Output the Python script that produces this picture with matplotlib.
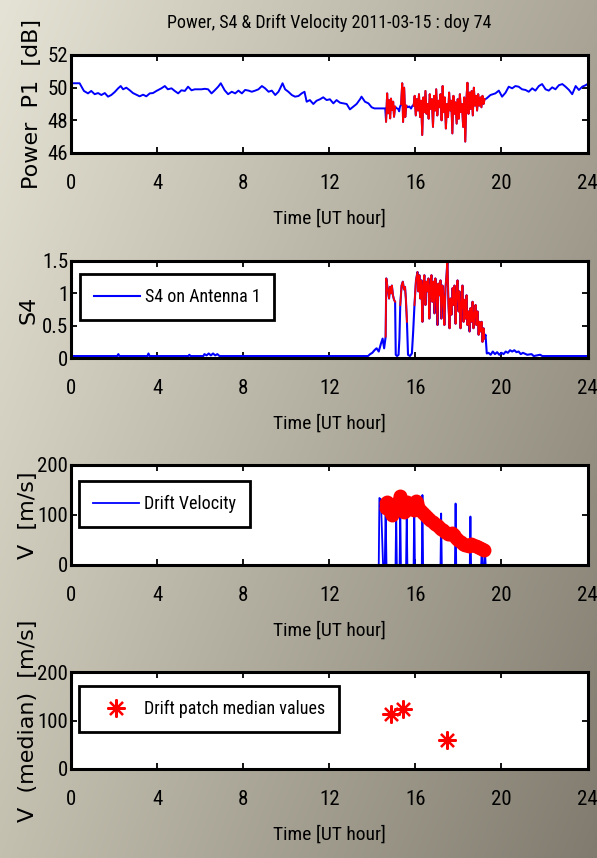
import numpy as np
import matplotlib
matplotlib.use('Agg')
import matplotlib.pyplot as plt
from matplotlib import font_manager

# ---- data ----
power_t = [0.00, 0.40, 0.60, 0.79, 0.94, 1.10, 1.26, 1.41, 1.57, 1.72, 1.87, 2.03, 2.19, 2.31, 2.42,
           2.57, 2.73, 2.88, 3.04, 3.19, 3.35, 3.50, 3.66, 3.81, 3.97, 4.20, 4.36, 4.50, 4.67, 4.82,
           4.98, 5.13, 5.29, 5.44, 5.60, 5.75, 5.90, 6.06, 6.22, 6.37, 6.53, 6.68, 6.84, 6.96, 7.14,
           7.30, 7.47, 7.63, 7.78, 7.94, 8.09, 8.25, 8.40, 8.56, 8.71, 8.87, 9.02, 9.18, 9.33, 9.49,
           9.64, 9.72, 9.83, 9.95, 10.10, 10.26, 10.41, 10.57, 10.72, 10.85, 10.95, 11.10, 11.26, 11.41,
           11.57, 11.72, 11.88, 12.03, 12.19, 12.34, 12.50, 12.65, 12.81, 12.96, 13.12, 13.27, 13.43,
           13.50, 13.66, 13.82, 13.97, 14.10, 14.40, 14.60,
           14.64, 14.69, 14.73, 14.78, 14.83, 14.87, 14.92, 14.97, 15.01, 15.06,
           15.12, 15.20, 15.25, 15.28,
           15.34, 15.39, 15.43, 15.48, 15.53, 15.58,
           15.65, 15.72, 15.80, 15.87,
           15.92, 15.97, 16.02, 16.07, 16.12, 16.17, 16.22, 16.27, 16.32, 16.37, 16.42, 16.47, 16.52,
           16.57, 16.62, 16.67, 16.72, 16.77, 16.82, 16.87, 16.92, 16.97, 17.02, 17.07, 17.12, 17.17,
           17.22, 17.27, 17.32, 17.37, 17.42, 17.47, 17.52, 17.57, 17.62, 17.67, 17.72, 17.77, 17.82,
           17.87, 17.92, 17.97, 18.02, 18.07, 18.12, 18.17, 18.22, 18.27, 18.32, 18.37, 18.42, 18.47,
           18.52, 18.57, 18.62, 18.67, 18.72, 18.77, 18.82, 18.87, 18.92, 18.97, 19.02, 19.07, 19.12,
           19.17, 19.22,
           19.30, 19.49, 19.72, 19.88, 20.03, 20.19, 20.34, 20.50, 20.65, 20.80, 20.96, 21.12, 21.27,
           21.43, 21.58, 21.74, 21.89, 22.05, 22.20, 22.36, 22.51, 22.67, 22.83, 22.98, 23.14, 23.29,
           23.45, 23.60, 23.76, 23.91, 24.00]
power_db = [50.27, 50.27, 49.80, 49.65, 49.80, 49.60, 49.67, 49.55, 49.67, 49.45, 49.55, 49.73, 49.96, 50.10, 49.90,
            50.00, 49.84, 49.67, 49.57, 49.47, 49.57, 49.47, 49.65, 49.67, 49.80, 49.96, 50.10, 49.90, 49.96, 49.80,
            49.65, 49.84, 49.80, 50.06, 49.84, 49.90, 49.90, 49.90, 49.93, 49.90, 49.65, 49.84, 50.06, 50.27, 49.84,
            49.60, 49.75, 49.65, 49.82, 49.65, 49.86, 49.82, 49.75, 49.82, 49.90, 50.10, 49.96, 49.75, 49.82, 49.55,
            49.75, 49.96, 50.27, 49.90, 49.75, 49.55, 49.45, 49.49, 49.65, 49.75, 49.14, 49.24, 49.00, 49.20,
            49.29, 49.41, 49.24, 49.29, 49.04, 49.24, 49.08, 49.04, 49.00, 48.67, 48.84, 49.00, 49.29,
            49.45, 49.14, 49.04, 48.80, 48.73, 48.73, 48.73,
            47.92, 49.65, 48.43, 49.24, 48.12, 49.33, 48.63, 49.14, 48.22, 48.84,
            48.75, 48.70, 48.55, 48.80,
            49.00, 50.27, 47.90, 50.00, 48.20, 48.90,
            48.80, 48.85, 48.72, 48.90,
            48.90, 49.50, 48.30, 49.30, 48.60, 49.60, 48.20, 49.20, 47.10, 49.40, 48.50, 49.80, 48.40,
            49.00, 48.10, 49.60, 48.70, 49.30, 47.60, 49.50, 48.60, 49.90, 48.30, 49.20, 48.80, 49.60,
            48.00, 50.10, 48.50, 49.40, 47.50, 49.00, 48.20, 49.70, 48.60, 49.20, 47.20, 49.50, 48.40,
            49.10, 47.80, 49.30, 48.10, 49.60, 48.50, 49.00, 47.60, 49.40, 46.70, 49.20, 50.30, 48.40,
            49.70, 48.70, 49.80, 48.30, 50.00, 48.90, 49.50, 48.60, 49.60, 48.90, 49.40, 48.80, 49.50,
            49.00, 49.30,
            49.33, 49.55, 49.65, 49.82, 49.45, 49.69, 50.06, 49.96, 50.10, 50.06, 49.90, 49.86, 49.75,
            49.96, 49.82, 50.10, 50.22, 49.90, 49.82, 50.02, 49.90, 50.15, 50.22, 50.06, 49.86, 49.60,
            50.10, 49.86, 50.06, 50.15, 50.22]

s4_t = [0.00, 2.15, 2.20, 2.25, 3.55, 3.60, 3.65, 5.45, 5.50, 5.55, 6.15, 6.20, 6.30, 6.40, 6.50,
        6.60, 6.70, 6.80, 6.90, 13.80, 13.90, 14.00, 14.10, 14.20, 14.30, 14.40, 14.48, 14.55,
        14.62, 14.65, 14.71, 14.78, 14.82, 14.87, 14.91, 14.96, 15.01, 15.06,
        15.09, 15.15, 15.22, 15.26,
        15.30, 15.36, 15.42, 15.47, 15.52, 15.56, 15.61,
        15.66, 15.75, 15.84, 15.90,
        15.96, 16.03, 16.10, 16.14, 16.19, 16.23, 16.28, 16.33, 16.37, 16.42, 16.47, 16.51, 16.56,
        16.61, 16.65, 16.70, 16.75, 16.79, 16.84, 16.89, 16.93, 16.98, 17.03, 17.07, 17.12, 17.17,
        17.21, 17.26, 17.31, 17.35, 17.40, 17.45, 17.49, 17.54, 17.59, 17.63, 17.68, 17.73, 17.77,
        17.82, 17.87, 17.91, 17.96, 18.01, 18.05, 18.10, 18.14, 18.19, 18.24, 18.28, 18.33, 18.38,
        18.42, 18.47, 18.52, 18.56, 18.61, 18.66, 18.70, 18.75, 18.80, 18.84, 18.89, 18.94, 18.98,
        19.03, 19.08, 19.12, 19.17, 19.21,
        19.26, 19.32, 19.40, 19.50, 19.60, 19.70, 19.80, 19.90, 20.00, 20.10, 20.20, 20.30, 20.40,
        20.50, 20.60, 20.70, 20.80, 20.90, 21.00, 21.20, 21.40, 21.50, 21.80, 21.90, 24.00]
s4_v = [0.03, 0.03, 0.06, 0.03, 0.03, 0.07, 0.03, 0.03, 0.05, 0.03, 0.03, 0.06, 0.04, 0.07, 0.04,
        0.07, 0.04, 0.06, 0.03, 0.03, 0.06, 0.08, 0.12, 0.15, 0.10, 0.22, 0.30, 0.15,
        0.33, 1.23, 1.08, 0.92, 1.10, 1.00, 1.12, 0.97, 0.90, 0.87,
        0.05, 0.03, 0.05, 0.30,
        0.82, 1.12, 1.18, 1.06, 1.10, 0.92, 0.56,
        0.05, 0.03, 0.07, 0.41,
        0.82, 1.20, 1.33, 1.03, 1.28, 0.92, 1.20, 0.56, 1.12, 1.28, 0.82, 1.18, 1.03,
        1.23, 0.61, 1.12, 1.28, 0.87, 1.18, 0.69, 1.23, 1.08, 0.51, 1.15, 0.97, 1.20,
        0.61, 1.12, 0.92, 0.51, 1.08, 1.28, 1.51, 0.82, 0.46, 0.92, 0.67, 1.08, 0.82,
        1.12, 0.53, 0.97, 1.20, 0.72, 1.03, 0.46, 0.82, 1.12, 0.56, 0.90, 0.61, 0.97,
        0.51, 0.72, 0.41, 0.77, 0.56, 0.87, 0.46, 0.67, 0.82, 0.51, 0.72, 0.36, 0.56,
        0.41, 0.56, 0.25, 0.46, 0.30,
        0.36, 0.07, 0.08, 0.05, 0.10, 0.06, 0.09, 0.05, 0.08, 0.06, 0.10, 0.08, 0.12,
        0.10, 0.12, 0.09, 0.10, 0.06, 0.08, 0.05, 0.06, 0.03, 0.05, 0.03, 0.03]

# scintillation patches (drawn in red)
patches = [(14.62, 15.07), (15.29, 15.61), (15.91, 19.23)]

drift_t = [0.00, 14.30, 14.33, 14.40, 14.50, np.nan, 14.58, 14.62, 14.66, np.nan,
           15.08, 15.11, 15.14, np.nan, 15.27, 15.30, 15.33, np.nan, 15.57, 15.60, 15.63, np.nan,
           15.92, 15.95, 15.98, np.nan, 16.30, 16.33, 16.36, np.nan, 17.17, 17.20, 17.23, np.nan,
           17.84, 17.87, 17.90, np.nan, 18.53, 18.56, 18.59, np.nan,
           19.06, 19.09, 19.12, 19.20, 19.23, 19.27, 24.00]
drift_v = [0, 0, 134, 131, 0, np.nan, 0, 110, 0, np.nan,
           0, 108, 0, np.nan, 0, 115, 0, np.nan, 0, 105, 0, np.nan,
           0, 127, 0, np.nan, 0, 140, 0, np.nan, 0, 103, 0, np.nan,
           0, 123, 0, np.nan, 0, 97, 0, np.nan,
           0, 37, 0, 0, 33, 0, 0]

# drift estimates inside each patch (nan separates patches)
patch_t = [14.62, 14.66, 14.70, 14.75, 14.80, 14.85, 14.90, 14.95, 15.00, 15.04, 15.08, np.nan,
           15.18, 15.22, 15.27, 15.32, 15.37, 15.42, 15.47, 15.52, 15.57, 15.62, 15.67, 15.72, np.nan,
           15.93, 15.97, 16.02, 16.07, 16.12, 16.20, 16.30, 16.40, 16.50, 16.60, 16.70, 16.80,
           16.90, 17.00, 17.10, 17.20, 17.30, 17.40, 17.50, 17.60, 17.70, 17.80, 17.90, 18.00,
           18.10, 18.20, 18.30, 18.40, 18.50, 18.60, 18.70, 18.80, 18.90, 19.00, 19.10, 19.20]
patch_v = [115, 124, 127, 122, 112, 104, 100, 108, 117, 118, 110, np.nan,
           118, 130, 138, 130, 118, 108, 106, 112, 122, 127, 122, 112, np.nan,
           110, 122, 128, 124, 117, 110, 106, 102, 98, 94, 90, 86,
           82, 80, 76, 73, 70, 66, 62, 62, 64, 60, 54, 50,
           46, 43, 40, 40, 38, 42, 40, 38, 36, 35, 32, 30]

median_t = [14.85, 15.42, 17.46]
median_v = [113, 123, 59]

xticks = [0, 4, 8, 12, 16, 20, 24]

# ---- fonts ----
names = {f.name for f in font_manager.fontManager.ttflist}
narrow = next((n for n in ['Roboto Condensed', 'Archivo Narrow', 'Liberation Sans Narrow']
               if n in names), 'Liberation Sans')
plt.rcParams['font.family'] = [narrow, 'DejaVu Sans']

W, H = 597, 858
fig = plt.figure(figsize=(W / 100, H / 100), dpi=100)

# background gradient
bg = fig.add_axes([0, 0, 1, 1], zorder=-10)
tl = np.array([229, 227, 213]) / 255
tr = np.array([170, 165, 150]) / 255
bl = np.array([196, 192, 176]) / 255
br = np.array([128, 123, 110]) / 255
u = np.linspace(0, 1, 200)[None, :, None]
w = np.linspace(0, 1, 200)[:, None, None]
img = (1 - w) * ((1 - u) * tl + u * tr) + w * ((1 - u) * bl + u * br)
bg.imshow(img, aspect='auto', extent=[0, 1, 0, 1])
bg.axis('off')


def in_patch(t):
    t = np.asarray(t, dtype=float)
    m = np.zeros(t.shape, dtype=bool)
    for a, b in patches:
        m |= (t >= a) & (t <= b)
    return m


def make_ax(top, bottom):
    ax = fig.add_axes([71 / W, 1 - bottom / H, (587.5 - 71) / W, (bottom - top) / H])
    ax.set_facecolor('white')
    for s in ax.spines.values():
        s.set_linewidth(2.2)
    ax.tick_params(direction='in', top=True, right=True, length=4.5, width=1.3,
                   labelsize=15, colors='black')
    ax.tick_params(axis='x', pad=15)
    ax.tick_params(axis='y', pad=2)
    ax.set_xlim(0, 24)
    ax.set_xticks(xticks)
    ax.set_xlabel('Time [UT hour]', fontsize=14, labelpad=12)
    return ax


def style_legend(leg):
    fr = leg.get_frame()
    fr.set_edgecolor('black')
    fr.set_linewidth(2)
    fr.set_alpha(1)


ylab = dict(family='DejaVu Sans', fontsize=16, va='center')
legkw = dict(loc='upper left', borderaxespad=0, fontsize=13, fancybox=False,
             handlelength=2.55, handletextpad=0.25, borderpad=0.78, numpoints=1)

# panel 1: power
ax1 = make_ax(55, 153)
pt = np.array(power_t)
pv = np.array(power_db)
ax1.plot(pt, pv, color='blue', lw=1.4)
ax1.plot(pt, np.where(in_patch(pt), pv, np.nan), color='red', lw=1.4)
ax1.set_ylim(46, 52)
ax1.set_yticks([46, 48, 50, 52])
ax1.set_ylabel('Power  P1  [dB]', **ylab)
ax1.yaxis.set_label_coords(-0.075, 0.5)
fig.text((71 + 587.5) / 2 / W, 1 - 23 / H, 'Power, S4 & Drift Velocity 2011-03-15 : doy 74',
         ha='center', va='center', fontsize=13)

# panel 2: S4
ax2 = make_ax(261, 358)
st = np.array(s4_t)
sv = np.array(s4_v)
ax2.plot(st, sv, color='blue', lw=1.5, label='S4 on Antenna 1')
ax2.plot(st, np.where(in_patch(st), sv, np.nan), color='red', lw=1.3)
ax2.set_ylim(0, 1.5)
ax2.set_yticks([0, 0.5, 1, 1.5])
ax2.set_yticklabels(['0', '0.5', '1', '1.5'])
ax2.set_ylabel('S4', **ylab)
ax2.yaxis.set_label_coords(-0.083, 0.5)
style_legend(ax2.legend(bbox_to_anchor=(0.0174, 0.866), **legkw))

# panel 3: drift velocity
ax3 = make_ax(465, 565)
ax3.plot(drift_t, drift_v, color='blue', lw=1.3, label='Drift Velocity')
ax3.plot(patch_t, patch_v, color='red', lw=4, marker='o', ms=9, mec='red', mfc='red')
ax3.set_ylim(0, 200)
ax3.set_yticks([0, 100, 200])
ax3.set_ylabel('V  [m/s]', **ylab)
ax3.yaxis.set_label_coords(-0.083, 0.5)
style_legend(ax3.legend(bbox_to_anchor=(0.0155, 0.84), **legkw))

# panel 4: median drift per patch
ax4 = make_ax(672, 769)
ax4.plot(median_t, median_v, linestyle='none', marker=(8, 2, 0), ms=13, mew=1.6,
         color='red', label='Drift patch median values')
ax4.set_ylim(0, 200)
ax4.set_yticks([0, 100, 200])
ax4.set_ylabel('V  (median)  [m/s]', **ylab)
ax4.yaxis.set_label_coords(-0.083, 0.5)
style_legend(ax4.legend(bbox_to_anchor=(0.0155, 0.856), **legkw))

fig.savefig('out.png', dpi=100)
